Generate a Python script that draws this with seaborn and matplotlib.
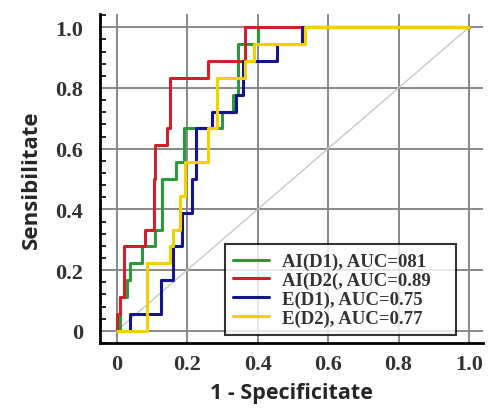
import numpy as np
import pandas as pd
import seaborn as sns
import matplotlib.pyplot as plt
from matplotlib.ticker import MultipleLocator

# Puncte ROC (varfurile treptelor)
fpr_ai_d1 = [0, 0.01, 0.01, 0.03, 0.03, 0.038, 0.038, 0.072, 0.072, 0.11, 0.11, 0.128, 0.128,
             0.17, 0.17, 0.19, 0.19, 0.30, 0.30, 0.33, 0.33, 0.345, 0.345, 0.40, 0.40, 1.0]
tpr_ai_d1 = [0, 0, 0.111, 0.111, 0.167, 0.167, 0.222, 0.222, 0.278, 0.278, 0.333, 0.333, 0.5,
             0.5, 0.556, 0.556, 0.667, 0.667, 0.722, 0.722, 0.778, 0.778, 0.944, 0.944, 1.0, 1.0]

fpr_ai_d2 = [0, 0, 0.01, 0.01, 0.02, 0.02, 0.08, 0.08, 0.105, 0.105, 0.11, 0.11, 0.143, 0.143,
             0.152, 0.152, 0.26, 0.26, 0.365, 0.365, 1.0]
tpr_ai_d2 = [0, 0.056, 0.056, 0.111, 0.111, 0.278, 0.278, 0.333, 0.333, 0.5, 0.5, 0.611, 0.611,
             0.667, 0.667, 0.833, 0.833, 0.889, 0.889, 1.0, 1.0]

fpr_e_d1 = [0, 0.038, 0.038, 0.127, 0.127, 0.16, 0.16, 0.185, 0.185, 0.215, 0.215, 0.225, 0.225,
            0.27, 0.27, 0.34, 0.34, 0.36, 0.36, 0.455, 0.455, 0.525, 0.525, 1.0]
tpr_e_d1 = [0, 0, 0.056, 0.056, 0.167, 0.167, 0.278, 0.278, 0.389, 0.389, 0.5, 0.5, 0.667,
            0.667, 0.722, 0.722, 0.778, 0.778, 0.889, 0.889, 0.944, 0.944, 1.0, 1.0]

fpr_e_d2 = [0, 0.087, 0.087, 0.152, 0.152, 0.16, 0.16, 0.18, 0.18, 0.195, 0.195, 0.26, 0.26,
            0.285, 0.285, 0.365, 0.365, 0.39, 0.39, 0.535, 0.535, 1.0]
tpr_e_d2 = [0, 0, 0.222, 0.222, 0.278, 0.278, 0.333, 0.333, 0.444, 0.444, 0.556, 0.556, 0.667,
            0.667, 0.833, 0.833, 0.889, 0.889, 0.944, 0.944, 1.0, 1.0]

labels = ["AI(D1), AUC=081", "AI(D2(, AUC=0.89", "E(D1), AUC=0.75", "E(D2), AUC=0.77"]
colors = ["#2a9a3a", "#d0202a", "#14148c", "#f5d000"]
ticks = [0, 0.2, 0.4, 0.6, 0.8, 1.0]
tick_labels = ["0", "0.2", "0.4", "0.6", "0.8", "1.0"]

sns.set_style("white")

fig = plt.figure(figsize=(4.89, 4.10), dpi=100)
ax = fig.add_axes([0.2045, 0.161, 0.7835, 0.802])

# grila si diagonala
for t in ticks:
    ax.axvline(t, color="#888888", lw=1.4, zorder=0)
    ax.axhline(t, color="#888888", lw=1.4, zorder=0)
ax.plot([0, 1], [0, 1], color="#c8c8c8", lw=1.0, zorder=1)

curves = [(fpr_ai_d1, tpr_ai_d1), (fpr_ai_d2, tpr_ai_d2), (fpr_e_d1, tpr_e_d1), (fpr_e_d2, tpr_e_d2)]
for (fx, ty), lab, col in zip(curves, labels, colors):
    df = pd.DataFrame({"fpr": fx, "tpr": ty})
    sns.lineplot(data=df, x="fpr", y="tpr", sort=False, estimator=None,
                 color=col, lw=2.2, label=lab, ax=ax)

ax.set_xlim(-0.047, 1.04)
ax.set_ylim(-0.04, 1.043)
ax.set_xticks(ticks)
ax.set_xticklabels(tick_labels)
ax.set_yticks(ticks)
ax.set_yticklabels(tick_labels)
ax.yaxis.set_minor_locator(MultipleLocator(0.04))

for s in ["top", "right"]:
    ax.spines[s].set_visible(False)
for s in ["left", "bottom"]:
    ax.spines[s].set_color("black")
    ax.spines[s].set_linewidth(2)

ax.tick_params(axis="both", which="major", direction="in", length=7, width=1.5, color="black")
ax.tick_params(axis="y", which="minor", direction="in", length=4, width=1.2, color="black", left=True)
ax.tick_params(axis="y", which="major", pad=12)
ax.tick_params(axis="x", which="major", pad=8)
for lbl in ax.get_xticklabels() + ax.get_yticklabels():
    lbl.set_fontfamily("Liberation Serif")
    lbl.set_fontweight("bold")
    lbl.set_fontsize(16)
    lbl.set_color("#333333")

ax.set_xlabel("1 - Specificitate", fontsize=15.5, fontweight="bold", family="Open Sans", labelpad=6)
ax.set_ylabel("Sensibilitate", fontsize=16, fontweight="bold", family="Open Sans", labelpad=10)

leg = ax.legend(loc="lower left", bbox_to_anchor=(0.326, 0.024, 0.604, 0.28), mode="expand",
                frameon=True, fancybox=False,
                prop={"family": "Liberation Serif", "weight": "bold", "size": 13.5},
                handlelength=1.9, handletextpad=0.7, borderpad=0.45, labelspacing=0.08,
                borderaxespad=0)
leg.get_frame().set_edgecolor("black")
leg.get_frame().set_linewidth(1.5)
for t in leg.get_texts():
    t.set_color("#333333")

fig.savefig("out.png", dpi=100)
